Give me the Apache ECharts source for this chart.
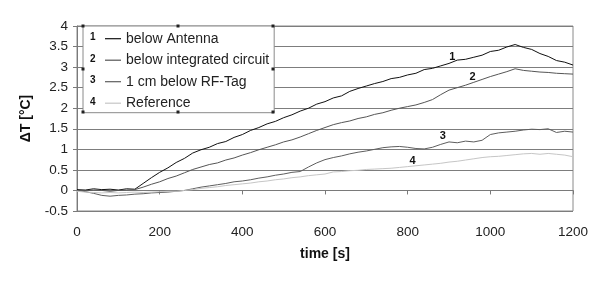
<!DOCTYPE html>
<html>
<head>
<meta charset="utf-8">
<script src="https://cdn.jsdelivr.net/npm/echarts@6/dist/echarts.min.js"></script>
<style>
html,body{margin:0;padding:0;background:#fff;}
#chart{width:600px;height:283px;}
</style>
</head>
<body>
<div id="chart"></div>
<script>
// time axis [s]
var times = [0,20,40,60,80,100,120,140,160,180,200,220,240,260,280,300,320,340,360,380,400,420,440,460,480,500,520,540,560,580,600,620,640,660,680,700,720,740,760,780,800,820,840,860,880,900,920,940,960,980,1000,1020,1040,1060,1080,1100,1120,1140,1160,1180,1200];

var seriesNames = ['below Antenna', 'below integrated circuit', '1 cm below RF-Tag', 'Reference'];
var seriesTags = ['1', '2', '3', '4'];

var belowAntenna = [0.02,0.01,0.04,0.02,0.03,0.01,0.04,0.03,0.17,0.31,0.44,0.55,0.68,0.78,0.91,0.99,1.05,1.14,1.19,1.29,1.36,1.46,1.53,1.62,1.68,1.77,1.84,1.93,2.00,2.10,2.16,2.25,2.30,2.41,2.48,2.54,2.60,2.65,2.72,2.75,2.81,2.85,2.94,2.97,3.03,3.09,3.17,3.19,3.24,3.29,3.38,3.41,3.49,3.55,3.48,3.43,3.33,3.26,3.16,3.12,3.05];

var belowIC = [0.00,-0.01,0.01,0.00,-0.02,0.00,0.01,0.02,0.08,0.15,0.21,0.29,0.35,0.43,0.51,0.57,0.63,0.67,0.74,0.79,0.86,0.92,0.99,1.05,1.11,1.18,1.23,1.30,1.38,1.46,1.53,1.60,1.65,1.69,1.75,1.79,1.85,1.89,1.95,2.00,2.04,2.08,2.14,2.21,2.33,2.44,2.50,2.56,2.63,2.70,2.77,2.83,2.89,2.96,2.92,2.90,2.88,2.87,2.85,2.84,2.83];

var belowTag = [0.00,-0.03,-0.07,-0.12,-0.14,-0.12,-0.11,-0.09,-0.08,-0.06,-0.05,-0.04,-0.02,0.00,0.04,0.08,0.11,0.14,0.17,0.21,0.23,0.26,0.30,0.33,0.37,0.40,0.44,0.46,0.57,0.67,0.75,0.80,0.84,0.89,0.93,0.96,1.00,1.04,1.06,1.07,1.05,1.02,1.01,1.05,1.12,1.18,1.16,1.20,1.18,1.22,1.36,1.40,1.42,1.44,1.47,1.49,1.48,1.50,1.41,1.44,1.42];

var reference = [-0.02,-0.04,-0.05,-0.06,-0.05,-0.06,-0.05,-0.04,-0.05,-0.04,-0.03,-0.02,-0.02,0.00,0.02,0.05,0.07,0.09,0.12,0.14,0.16,0.18,0.21,0.23,0.26,0.28,0.31,0.33,0.36,0.38,0.40,0.45,0.46,0.48,0.49,0.51,0.52,0.53,0.54,0.56,0.58,0.60,0.62,0.64,0.66,0.69,0.71,0.74,0.77,0.80,0.82,0.83,0.85,0.87,0.89,0.90,0.88,0.90,0.88,0.86,0.82];

// positions (in data units) of the numbered curve tags
var tagTimes = [908, 957, 885, 812];
var tagValues = [3.25, 2.77, 1.32, 0.72];

var xTicks = {min: 0, max: 1200, interval: 200};
var yTicks = {min: -0.5, max: 4, interval: 0.5};

var allValues = [belowAntenna, belowIC, belowTag, reference];
var colors = ['#111111', '#555555', '#5e5e5e', '#c6c6c6'];

function pairs(vals){ return times.map(function(t,i){ return [t, vals[i]]; }); }

var chart = echarts.init(document.getElementById('chart'), null, {renderer: 'canvas'});
var FONT = 'Liberation Sans, Arial, sans-serif';

var series = allValues.map(function(vals, i){
  return {
    name: seriesNames[i],
    type: 'line',
    data: pairs(vals),
    showSymbol: false,
    symbol: 'none',
    animation: false,
    lineStyle: {color: colors[i], width: 1},
    itemStyle: {color: colors[i]},
    markPoint: {
      symbol: 'circle', symbolSize: 0,
      data: [{coord: [tagTimes[i], tagValues[i]]}],
      label: {show: true, formatter: seriesTags[i], color: '#111', fontFamily: FONT, fontSize: 11, fontWeight: 'bold', position: 'inside'}
    }
  };
});

// legend decorations: numbers and selection handles
var legendBox = {x: 83, y: 26, w: 190, h: 86};
var graphics = [];
var rowY = [38.7, 60.2, 81.7, 103.2];
seriesTags.forEach(function(tag, i){
  graphics.push({type: 'text', left: 90, top: rowY[i] - 6, z: 100,
    style: {text: tag, fill: '#111', font: 'bold 10px ' + FONT}});
});
var hx = [legendBox.x, legendBox.x + legendBox.w/2, legendBox.x + legendBox.w];
var hy = [legendBox.y, legendBox.y + legendBox.h/2, legendBox.y + legendBox.h];
hx.forEach(function(x, a){
  hy.forEach(function(y, b){
    if (a === 1 && b === 1) return;
    graphics.push({type: 'rect', z: 100, shape: {x: x - 1.5, y: y - 1.5, width: 3, height: 3}, style: {fill: '#222'}});
  });
});

chart.setOption({
  backgroundColor: '#ffffff',
  animation: false,
  grid: {left: 77, right: 27, top: 26, bottom: 72, show: true, borderColor: '#8a8a8a', borderWidth: 1, backgroundColor: 'transparent'},
  xAxis: {
    type: 'value', min: xTicks.min, max: xTicks.max, interval: xTicks.interval,
    name: 'time [s]', nameLocation: 'middle', nameGap: 36,
    nameTextStyle: {fontFamily: FONT, fontSize: 14, fontWeight: 'bold', color: '#111'},
    axisLine: {show: true, lineStyle: {color: '#7a7a7a', width: 1}},
    axisTick: {show: true, inside: false, length: 4, lineStyle: {color: '#7a7a7a'}},
    axisLabel: {fontFamily: FONT, fontSize: 13.5, color: '#222', margin: 14,
      formatter: function(v){ return String(v); }},
    splitLine: {show: false}
  },
  yAxis: {
    type: 'value', min: yTicks.min, max: yTicks.max, interval: yTicks.interval,
    name: 'ΔT [°C]', nameLocation: 'middle', nameGap: 44, nameRotate: 90,
    nameTextStyle: {fontFamily: FONT, fontSize: 14, fontWeight: 'bold', color: '#111'},
    axisLine: {show: true, lineStyle: {color: '#7a7a7a', width: 1}},
    axisTick: {show: true, inside: false, length: 4, lineStyle: {color: '#7a7a7a'}},
    axisLabel: {fontFamily: FONT, fontSize: 13.5, color: '#222', margin: 9,
      formatter: function(v){ return String(Math.round(v*10)/10); }},
    splitLine: {show: true, lineStyle: {color: '#7d7d7d', width: 1}}
  },
  legend: {
    show: true, orient: 'vertical', left: legendBox.x, top: legendBox.y,
    data: seriesNames,
    backgroundColor: '#ffffff', borderColor: '#8a8a8a', borderWidth: 1,
    padding: [4.7, 5, 1.5, 22],
    itemGap: 5.5, itemWidth: 16, itemHeight: 1.2, icon: 'rect',
    selectedMode: false,
    textStyle: {fontFamily: FONT, fontSize: 14, color: '#222', lineHeight: 16, padding: [0, 0, 0, 0]}
  },
  graphic: graphics,
  series: series
});
</script>
</body>
</html>
